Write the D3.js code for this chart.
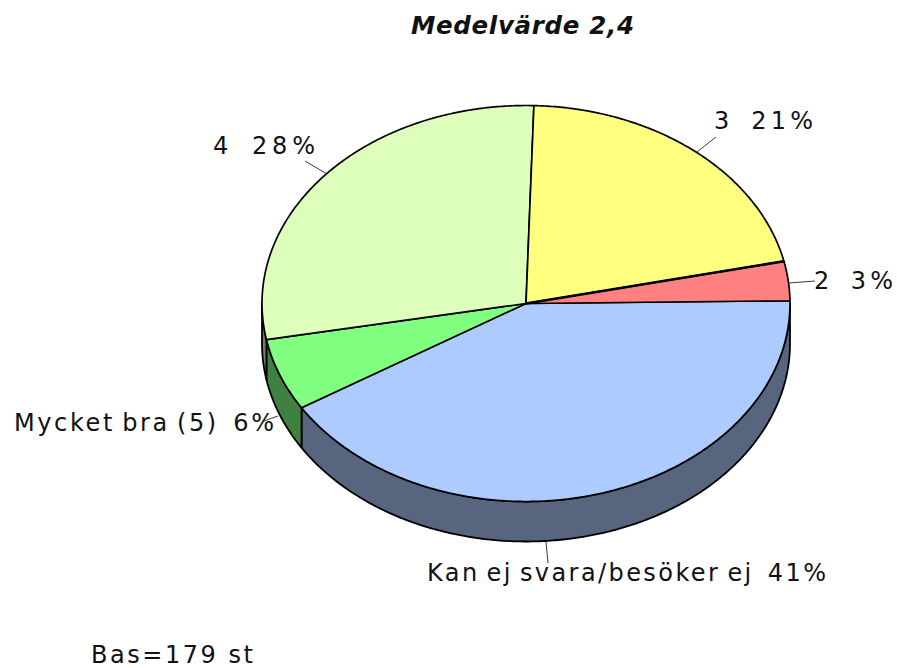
<!DOCTYPE html>
<html><head><meta charset="utf-8">
<script src="https://cdn.jsdelivr.net/npm/d3@7"></script>
<style>html,body{margin:0;padding:0;background:#fff}svg{display:block}
text{font-family:"DejaVu Sans",Verdana,sans-serif;fill:#111}</style></head>
<body><svg id="c" width="897" height="668"></svg>
<script>
const categories = ["Kan ej svara/besöker ej", "Mycket bra (5)", "4", "3", "2"];
const percentLabels = ["41%", "6%", "28%", "21%", "3%"];
const shares = [41.4, 5.9, 28.4, 21.1, 3.2];
const topColors = ["#aecbff", "#80ff80", "#ddffbb", "#ffff80", "#ff8080"];
const wallColors = ["#57657f", "#408040", "#6e805d", "#80803f", "#803f3f"];
const labelTexts = ["Kan ej svara/besöker ej  41%", "Mycket bra (5)  6%", "4  28%", "3  21%", "2  3%"];
const labelBoxes = [[427,581,399],[14,431,260],[213,154,102],[714,129,99],[814,289,79]];
const leaders = [[546,542,548,563],[278,416,264,421],[327,174,305,161],[697,152,716,137],[789,283,815,281]];
const titleText = "Medelvärde 2,4";
const baseText = "Bas=179 st";

const svg = d3.select("#c");
const rx = 264, ry = 198, cx = 526, cy = 303.5, depth = 40;
const X = d3.scaleLinear().domain([-1,1]).range([cx-rx,cx+rx]);
const Y = d3.scaleLinear().domain([-1,1]).range([cy-ry,cy+ry]);
const start = 89.2*Math.PI/180;
const pie = d3.pie().sort(null).startAngle(start).endAngle(start+2*Math.PI);
const arcs = pie(shares);

const samples = (a0,a1) => { const n = Math.max(2,Math.ceil(Math.abs(a1-a0)/0.01));
  return d3.range(n+1).map(i=>a0+(a1-a0)*i/n); };
const pt = (a,dz=0)=>[X(Math.sin(a)),Y(-Math.cos(a))+dz];
const line = d3.line();

const lo = Math.PI/2, hi = 3*Math.PI/2;
arcs.forEach((d,i)=>{
  const s=Math.max(d.startAngle,lo), e=Math.min(d.endAngle,hi);
  if(s>=e) return;
  const ang = samples(s,e);
  const poly = ang.map(a=>pt(a)).concat(ang.slice().reverse().map(a=>pt(a,depth)));
  svg.append("path").attr("d",line(poly)+"Z").attr("fill",wallColors[i])
    .attr("stroke","#000").attr("stroke-width",1.8).attr("stroke-linejoin","round");
});
arcs.forEach((d,i)=>{
  const poly=[[cx,cy]].concat(samples(d.startAngle,d.endAngle).map(a=>pt(a)));
  svg.append("path").attr("d",line(poly)+"Z").attr("fill",topColors[i])
    .attr("stroke","#000").attr("stroke-width",1.7).attr("stroke-linejoin","round");
});
const edge = arcs[3].endAngle;
svg.append("path").attr("d",line([[cx,cy],pt(edge)])).attr("stroke","#000").attr("stroke-width",2.6);
leaders.forEach(l=>svg.append("line").attr("x1",l[0]).attr("y1",l[1]).attr("x2",l[2]).attr("y2",l[3])
  .attr("stroke","#222").attr("stroke-width",0.9));
labelTexts.forEach((t,i)=>{ const b=labelBoxes[i];
  svg.append("text").attr("x",b[0]).attr("y",b[1]).attr("font-size",24)
    .style("white-space","pre").style("word-spacing","-3px")
    .attr("textLength",b[2]).attr("lengthAdjust","spacing").text(t);
});
svg.append("text").attr("x",411).attr("y",34).attr("font-size",24.5).attr("font-weight","bold")
  .attr("font-style","italic").attr("textLength",223).attr("lengthAdjust","spacing").text(titleText);
svg.append("text").attr("x",91).attr("y",663).attr("font-size",24)
  .attr("textLength",162).attr("lengthAdjust","spacing").text(baseText);
</script></body></html>
